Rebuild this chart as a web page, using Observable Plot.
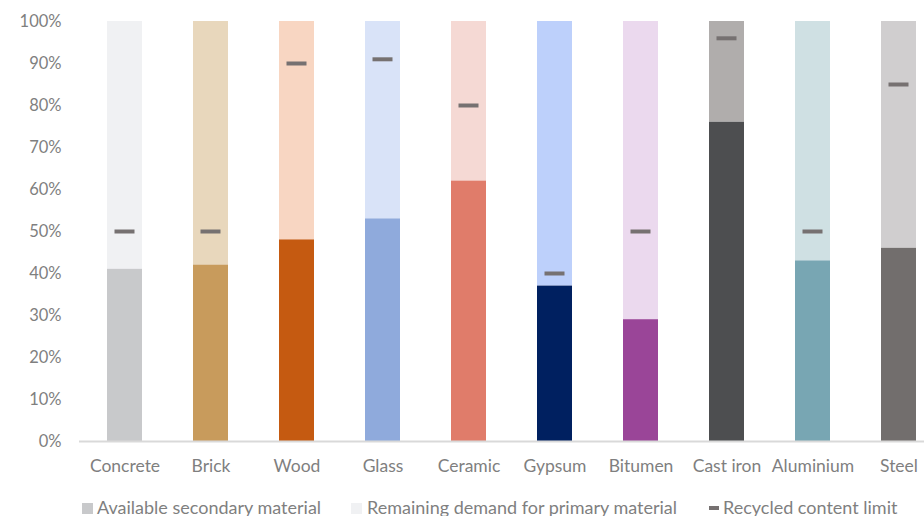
<!DOCTYPE html>
<html>
<head>
<meta charset="utf-8">
<script src="https://cdn.jsdelivr.net/npm/d3@7"></script>
<script src="https://cdn.jsdelivr.net/npm/@observablehq/plot@0.6"></script>
<style>
  html, body { margin: 0; padding: 0; background: #fff; }
  #wrap { position: relative; width: 924px; height: 516px; overflow: hidden; font-family: Lato, "Liberation Sans", sans-serif; }
  #chart { position: absolute; left: 0; top: 0; width: 944px; }
  #chart svg { max-width: none !important; }
  #chart g[aria-label="x-axis tick label"] { font-size: 17.5px; }
  .leg { position: absolute; font-size: 18px; color: #7f7f7f; white-space: nowrap; line-height: 1; }
  .sw { position: absolute; }
</style>
</head>
<body>
<div id="wrap">
  <div id="chart"></div>
</div>
<script>
const categories = ["Concrete", "Brick", "Wood", "Glass", "Ceramic", "Gypsum", "Bitumen", "Cast iron", "Aluminium", "Steel"];
const secondary = [41, 42, 48, 53, 62, 37, 29, 76, 43, 46];
const limits = [50, 50, 90, 91, 80, 40, 50, 96, 50, 85];
const darkColors = ["#c8c9cb", "#c89b5c", "#c55a11", "#8faadc", "#e07c6a", "#002060", "#9a4598", "#4d4e50", "#78a6b3", "#726e6d"];
const lightColors = ["#f0f1f3", "#e8d7bc", "#f8d6c2", "#d9e3f8", "#f5d9d4", "#bdd0fb", "#ebd9ee", "#b0adac", "#cfe0e3", "#d0cecf"];
const yTicks = [0, 10, 20, 30, 40, 50, 60, 70, 80, 90, 100];
const legendLabels = ["Available secondary material", "Remaining demand for primary material", "Recycled content limit"];

const data = categories.map((c, i) => ({
  cat: c, sec: secondary[i], limit: limits[i], dark: darkColors[i], light: lightColors[i]
}));

const chart = Plot.plot({
  width: 944,
  height: 480,
  marginLeft: 79,
  marginRight: 0,
  marginTop: 21,
  marginBottom: 39,
  style: { fontFamily: "Lato, 'Liberation Sans', sans-serif", fontSize: "16.5px", color: "#7f7f7f", background: "#fff", maxWidth: "none" },
  x: { domain: categories, paddingInner: 0.595, paddingOuter: 0.2975, label: null, tickSize: 0, tickPadding: 18 },
  y: { domain: [0, 100], ticks: yTicks, tickFormat: d => d + "%", label: null, tickSize: 0, tickPadding: 18 },
  color: { type: "identity" },
  marks: [
    Plot.barY(data, { x: "cat", y1: "sec", y2: () => 100, fill: "light" }),
    Plot.barY(data, { x: "cat", y1: () => 0, y2: "sec", fill: "dark" }),
    Plot.ruleY([0], { stroke: "#d9d9d9", strokeWidth: 2 }),
    Plot.tickY(data, { x: "cat", y: "limit", stroke: "#767171", strokeWidth: 4, insetLeft: 7.5, insetRight: 7.5 })
  ]
});
document.getElementById("chart").appendChild(chart);

// Legend
const wrap = document.getElementById("wrap");
const items = [
  { sx: 82, tx: 97, kind: "sq", color: darkColors[0] },
  { sx: 351, tx: 367, kind: "sq", color: lightColors[0] },
  { sx: 709, tx: 723, kind: "dash", color: "#767171" }
];
items.forEach((it, i) => {
  const s = document.createElement("div");
  s.className = "sw";
  s.style.left = it.sx + "px";
  if (it.kind === "sq") {
    s.style.top = "503px"; s.style.width = "11px"; s.style.height = "11px";
  } else {
    s.style.top = "506px"; s.style.width = "10px"; s.style.height = "4px";
  }
  s.style.background = it.color;
  wrap.appendChild(s);
  const t = document.createElement("div");
  t.className = "leg";
  t.style.left = it.tx + "px";
  t.style.top = "498px";
  t.textContent = legendLabels[i];
  wrap.appendChild(t);
});
</script>
</body>
</html>
